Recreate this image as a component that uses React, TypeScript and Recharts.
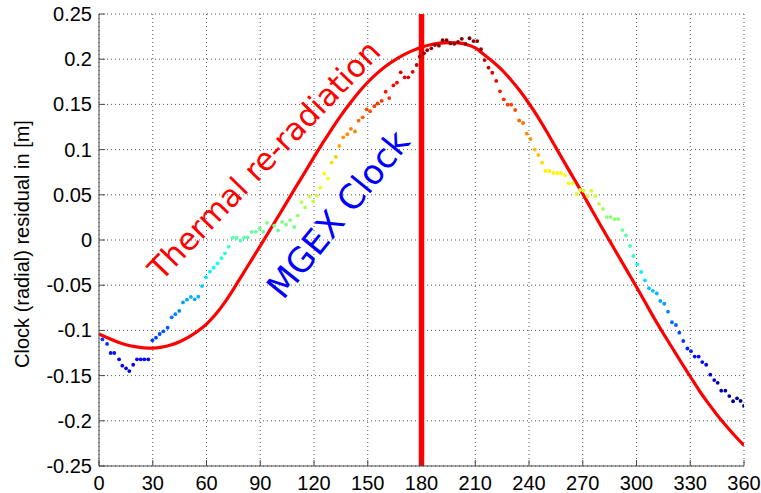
import React from 'react';
import { ComposedChart, Line, Scatter, XAxis, YAxis, CartesianGrid, ReferenceLine } from 'recharts';

// Thermal re-radiation model curve (deg, m)
const curveX = [0, 5, 10, 15, 20, 25, 30, 35, 40, 45, 50, 55, 60, 65, 70, 75, 80, 85, 90, 95, 100, 105, 110, 115, 120, 125, 130, 135, 140, 145, 150, 155, 160, 165, 170, 175, 180, 185, 190, 195, 200, 205, 210, 215, 220, 225, 230, 235, 240, 245, 250, 255, 260, 265, 270, 275, 280, 285, 290, 295, 300, 305, 310, 315, 320, 325, 330, 335, 340, 345, 350, 355, 360];
const curveY = [-0.104, -0.1085, -0.1125, -0.1158, -0.118, -0.1193, -0.1195, -0.1185, -0.1162, -0.1125, -0.1075, -0.101, -0.093, -0.0825, -0.0695, -0.0545, -0.0385, -0.0225, -0.0065, 0.0097, 0.026, 0.0425, 0.059, 0.0752, 0.0917, 0.1076, 0.123, 0.1375, 0.151, 0.1635, 0.1745, 0.184, 0.1922, 0.199, 0.2048, 0.2095, 0.2133, 0.216, 0.2177, 0.2184, 0.218, 0.2163, 0.2125, 0.205, 0.197, 0.188, 0.177, 0.1648, 0.151, 0.136, 0.1195, 0.1022, 0.085, 0.068, 0.051, 0.0335, 0.016, -0.001, -0.018, -0.035, -0.052, -0.0695, -0.087, -0.1035, -0.1195, -0.1355, -0.151, -0.1665, -0.1805, -0.1935, -0.2055, -0.2168, -0.2272];

// MGEX clock residual points
const dotX = [1.9, 4.5, 6.5, 8.5, 11.2, 13.0, 15.1, 16.9, 19.1, 21.2, 23.3, 25.3, 27.5, 29.8, 31.8, 33.9, 35.9, 38.3, 40.6, 42.6, 44.8, 46.9, 49.1, 51.3, 53.4, 55.4, 57.5, 59.7, 61.9, 64.0, 66.2, 68.3, 70.3, 72.4, 74.6, 76.8, 78.9, 80.9, 83.0, 85.2, 87.5, 89.7, 91.7, 93.8, 97.8, 100.0, 102.2, 104.4, 106.7, 109.0, 110.9, 113.1, 115.0, 117.4, 119.6, 121.5, 123.5, 125.7, 127.8, 129.9, 132.2, 134.1, 136.3, 138.6, 140.6, 142.9, 144.9, 147.2, 149.4, 151.3, 153.7, 155.5, 157.8, 160.0, 162.0, 164.3, 166.3, 168.4, 170.6, 172.6, 175.1, 177.3, 179.0, 181.4, 183.2, 185.5, 187.5, 189.7, 191.8, 194.0, 196.1, 198.3, 200.4, 202.5, 204.6, 206.8, 209.0, 211.1, 213.2, 215.2, 217.4, 219.5, 221.7, 223.8, 225.9, 228.1, 230.1, 232.3, 234.5, 236.7, 238.8, 240.9, 243.2, 245.2, 247.3, 249.1, 251.3, 253.6, 255.8, 257.9, 260.1, 262.1, 264.4, 266.6, 268.5, 270.5, 272.7, 274.8, 277.0, 279.1, 281.3, 283.4, 285.6, 287.8, 289.8, 292.1, 294.1, 296.4, 298.2, 300.4, 302.6, 304.7, 307.0, 309.1, 311.3, 313.3, 315.5, 317.6, 319.8, 322.0, 323.9, 326.1, 328.4, 330.4, 332.5, 334.7, 336.7, 338.9, 341.2, 343.4, 345.3, 347.3, 349.6, 351.8, 353.9, 356.1, 358.1, 360.0];
const dotY = [-0.110, -0.115, -0.125, -0.125, -0.132, -0.139, -0.142, -0.145, -0.138, -0.132, -0.132, -0.132, -0.132, -0.111, -0.108, -0.104, -0.101, -0.097, -0.0855, -0.082, -0.0785, -0.069, -0.066, -0.063, -0.0656, -0.0627, -0.051, -0.0413, -0.035, -0.0306, -0.0258, -0.020, -0.0147, -0.0074, 0.0025, 0.0025, -0.0008, 0.0025, 0.003, 0.009, 0.009, 0.013, 0.009, 0.019, 0.016, 0.0105, 0.020, 0.017, 0.022, 0.0144, 0.027, 0.042, 0.036, 0.048, 0.0424, 0.049, 0.058, 0.0735, 0.068, 0.0857, 0.092, 0.104, 0.1136, 0.117, 0.123, 0.120, 0.132, 0.1357, 0.1446, 0.1424, 0.148, 0.151, 0.154, 0.164, 0.157, 0.171, 0.174, 0.1855, 0.180, 0.180, 0.186, 0.1936, 0.2028, 0.2065, 0.210, 0.212, 0.2157, 0.215, 0.221, 0.221, 0.2175, 0.217, 0.219, 0.2225, 0.217, 0.2232, 0.220, 0.220, 0.211, 0.199, 0.1906, 0.185, 0.176, 0.1645, 0.1556, 0.1497, 0.1497, 0.1438, 0.1322, 0.1294, 0.1176, 0.1117, 0.100, 0.094, 0.0855, 0.0763, 0.0763, 0.0741, 0.0741, 0.0741, 0.0716, 0.0627, 0.0627, 0.0509, 0.0553, 0.0545, 0.0487, 0.0545, 0.0487, 0.040, 0.0343, 0.0254, 0.0254, 0.0232, 0.0232, 0.011, 0.0052, -0.0066, -0.0177, -0.0269, -0.0354, -0.0446, -0.0534, -0.0562, -0.0592, -0.0675, -0.0705, -0.0793, -0.091, -0.094, -0.1025, -0.1117, -0.120, -0.123, -0.129, -0.129, -0.135, -0.138, -0.149, -0.155, -0.158, -0.1667, -0.1667, -0.1726, -0.1784, -0.1751, -0.178, -0.1836];

const xTicks = [0, 30, 60, 90, 120, 150, 180, 210, 240, 270, 300, 330, 360];
const yTicks = [-0.25, -0.2, -0.15, -0.1, -0.05, 0, 0.05, 0.1, 0.15, 0.2, 0.25];
const yTickLabels = ['-0.25', '-0.2', '-0.15', '-0.1', '-0.05', '0', '0.05', '0.1', '0.15', '0.2', '0.25'];
const markerX = 180;
const yLabel = 'Clock (radial) residual in [m]';
const label1 = 'Thermal re-radiation';
const label2 = 'MGEX Clock';

const curveData = curveX.map((x, i) => ({ x, y: curveY[i] }));
const dotData = dotX.map((x, i) => ({ x, y: dotY[i] }));
const yMin = Math.min(...dotY);
const yMax = Math.max(...dotY);

const jet = (t: number) => {
  const c = (v: number) => Math.round(255 * Math.max(0, Math.min(1, v)));
  return `rgb(${c(1.5 - Math.abs(4 * t - 3))},${c(1.5 - Math.abs(4 * t - 2))},${c(1.5 - Math.abs(4 * t - 1))})`;
};

const FONT = '"Liberation Sans", Arial, sans-serif';
const AX = '#4a4a4a';

const LeftTick = (props: any) => {
  const { x, y, payload } = props;
  const idx = yTicks.indexOf(payload.value);
  const ax = x + 7;
  return (
    <g>
      <line x1={ax} x2={ax + 6} y1={y} y2={y} stroke={AX} />
      <text x={x} y={y + 7} textAnchor="end" fontSize={20} fontFamily={FONT} fill="#000">
        {idx >= 0 ? yTickLabels[idx] : payload.value}
      </text>
    </g>
  );
};

const BottomTick = (props: any) => {
  const { x, y, payload } = props;
  const ay = y - 10;
  return (
    <g>
      <line x1={x} x2={x} y1={ay} y2={ay - 6} stroke={AX} />
      <text x={x} y={ay + 24} textAnchor="middle" fontSize={20} fontFamily={FONT} fill="#000">
        {payload.value}
      </text>
    </g>
  );
};

const RightTick = (props: any) => {
  const { x, y } = props;
  return <line x1={x} x2={x - 6} y1={y} y2={y} stroke={AX} />;
};

const TopTick = (props: any) => {
  const { x, y } = props;
  return <line x1={x} x2={x} y1={y} y2={y + 6} stroke={AX} />;
};

const Dot = (props: any) => {
  const { cx, cy, payload } = props;
  const t = (payload.y - yMin) / (yMax - yMin);
  return <circle cx={cx} cy={cy} r={1.9} fill={jet(t)} />;
};

export default function App() {
  return (
    <div style={{ position: 'absolute', left: 0, top: 0, width: 761, height: 493, background: '#fff' }}>
      <ComposedChart width={761} height={493} margin={{ top: 14, right: 17, left: 0, bottom: 0 }}>
        <CartesianGrid stroke="#555" strokeDasharray="1 3" />
        <XAxis
          dataKey="x"
          type="number"
          domain={[0, 360]}
          ticks={xTicks}
          height={27}
          stroke={AX}
          tickSize={0}
          tickMargin={10}
          tickLine={false}
          tick={<BottomTick />}
          allowDataOverflow
          interval={0}
        />
        <XAxis
          xAxisId="t"
          orientation="top"
          type="number"
          domain={[0, 360]}
          ticks={xTicks}
          height={0}
          stroke={AX}
          tickSize={0}
          tickMargin={0}
          tickLine={false}
          tick={<TopTick />}
          interval={0}
        />
        <YAxis
          dataKey="y"
          type="number"
          domain={[-0.25, 0.25]}
          ticks={yTicks}
          width={99}
          stroke={AX}
          tickSize={0}
          tickMargin={7}
          tickLine={false}
          tick={<LeftTick />}
          allowDataOverflow
          interval={0}
        />
        <YAxis
          yAxisId="r"
          orientation="right"
          type="number"
          domain={[-0.25, 0.25]}
          ticks={yTicks}
          width={0}
          stroke={AX}
          tickSize={0}
          tickMargin={0}
          tickLine={false}
          tick={<RightTick />}
          interval={0}
        />
        <Scatter data={dotData} dataKey="y" shape={<Dot />} isAnimationActive={false} />
        <Line
          data={curveData}
          dataKey="y"
          type="monotone"
          stroke="#ff0000"
          strokeWidth={3.2}
          strokeLinejoin="round"
          dot={false}
          activeDot={false}
          isAnimationActive={false}
        />
        <ReferenceLine x={markerX} stroke="#ff0000" strokeWidth={5.5} />
      </ComposedChart>
      <svg width={761} height={493} style={{ position: 'absolute', left: 0, top: 0, pointerEvents: 'none' }}>
        <text
          x={22}
          y={244}
          transform="rotate(-90 22 244)"
          textAnchor="middle"
          dominantBaseline="central"
          fontSize={20}
          fontFamily={FONT}
          fill="#000"
        >
          {yLabel}
        </text>
        <text
          x={264}
          y={160}
          transform="rotate(-46 264 160)"
          textAnchor="middle"
          dominantBaseline="central"
          fontSize={31}
          fontFamily='"DejaVu Sans", sans-serif'
          fill="#ff0000"
        >
          {label1}
        </text>
        <text
          x={338}
          y={214}
          transform="rotate(-51 338 214)"
          textAnchor="middle"
          dominantBaseline="central"
          fontSize={34}
          fontFamily='"DejaVu Sans", sans-serif'
          fill="#0000ff"
        >
          {label2}
        </text>
      </svg>
    </div>
  );
}
